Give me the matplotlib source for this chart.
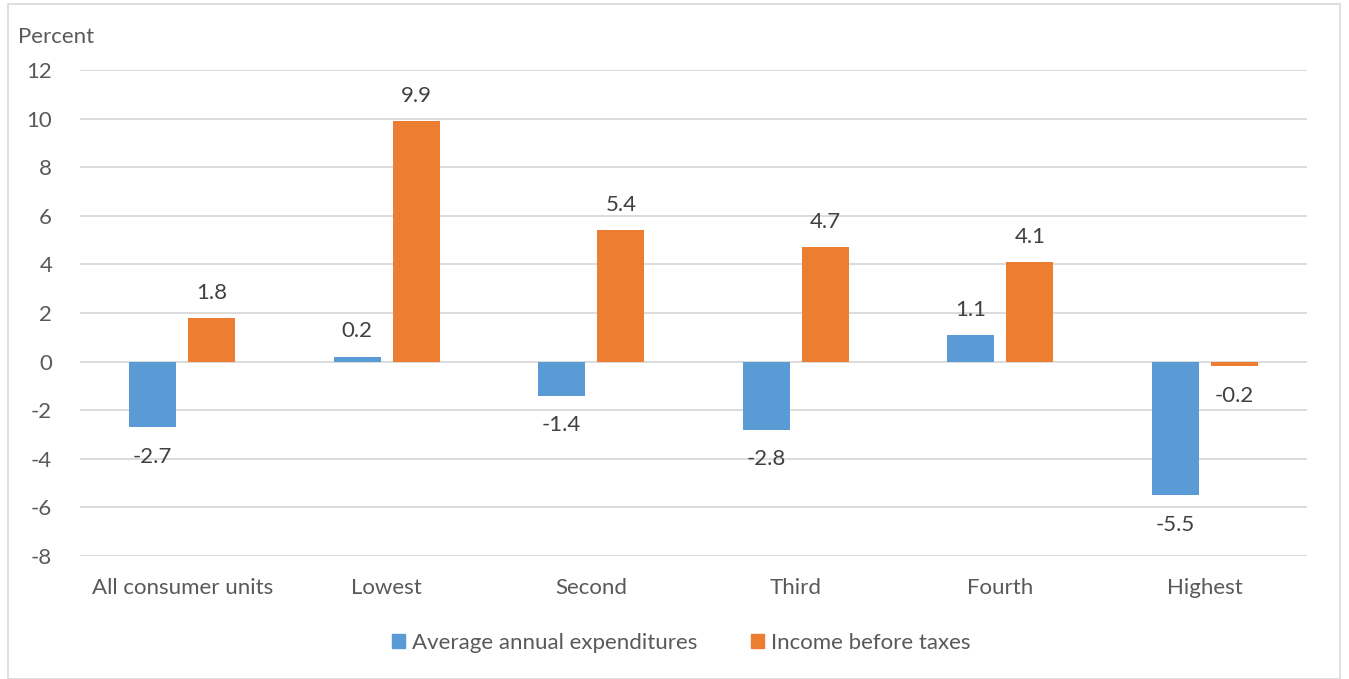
import numpy as np
import matplotlib.pyplot as plt
from matplotlib.patches import Rectangle, Patch

categories = ['All consumer units', 'Lowest', 'Second', 'Third', 'Fourth', 'Highest']
expenditures = [-2.7, 0.2, -1.4, -2.8, 1.1, -5.5]
income = [1.8, 9.9, 5.4, 4.7, 4.1, -0.2]
series_names = ['Average annual expenditures', 'Income before taxes']

blue = '#5B9BD5'
orange = '#ED7D31'
plt.rcParams['font.family'] = ['Lato', 'DejaVu Sans']
plt.rcParams['axes.unicode_minus'] = False

fig = plt.figure(figsize=(13.49, 6.79), dpi=100)
fig.patches.append(Rectangle((8/1349, 0), 1332/1349, 1 - 4/679, transform=fig.transFigure,
                             fill=False, edgecolor='#D9D9D9', linewidth=1.2))
ax = fig.add_axes([80/1349, 1 - 556/679, 1227/1349, 486/679])

x = np.arange(len(categories))
w = 0.23
off = 0.145
b1 = ax.bar(x - off, expenditures, w, color=blue, zorder=3)
b2 = ax.bar(x + off, income, w, color=orange, zorder=3)

for bars, vals in [(b1, expenditures), (b2, income)]:
    for b, v in zip(bars, vals):
        cx = b.get_x() + b.get_width() / 2
        if v >= 0:
            ax.annotate(f'{v:.1f}', (cx, v), xytext=(0, 11), textcoords='offset points',
                        ha='center', va='bottom', fontsize=16, color='#404040')
        else:
            ax.annotate(f'{v:.1f}', (cx, v), xytext=(0, -14), textcoords='offset points',
                        ha='center', va='top', fontsize=16, color='#404040')

ax.set_ylim(-8, 12)
ax.set_yticks(range(-8, 13, 2))
ax.set_xlim(-0.5, len(categories) - 0.5)
ax.set_xticks(x)
ax.set_xticklabels(categories)
ax.grid(axis='y', color='#D9D9D9', linewidth=1.3, zorder=0)
ax.tick_params(axis='both', length=0, labelsize=16, colors='#595959', pad=16)
ax.tick_params(axis='y', pad=20)
for s in ax.spines.values():
    s.set_visible(False)

fig.text(18/1349, 1 - 37/679, 'Percent', fontsize=16, color='#595959', va='center', ha='left')

handles = [Patch(color=blue), Patch(color=orange)]
fig.legend(handles, series_names, loc='center', bbox_to_anchor=(681/1349, 1 - 643/679),
           ncol=2, frameon=False, fontsize=16, labelcolor='#595959',
           handlelength=0.6, handleheight=0.6, handletextpad=0.3, columnspacing=2.4)

fig.savefig('out.png', dpi=100)
